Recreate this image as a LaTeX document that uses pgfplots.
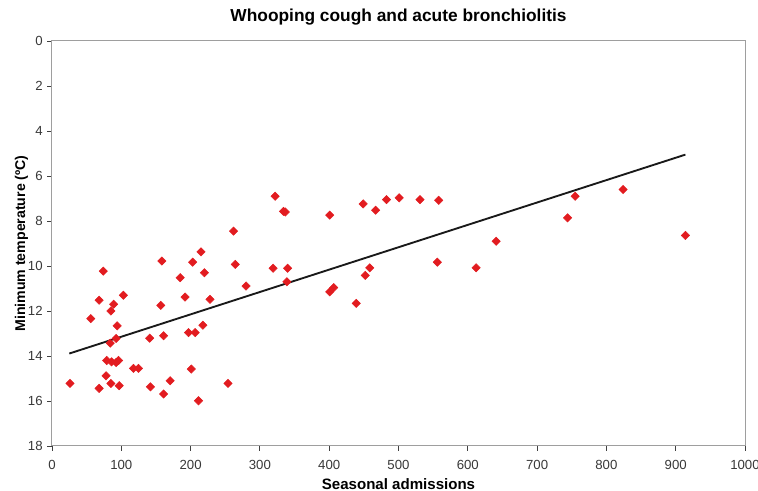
\documentclass[border=0pt]{standalone}
\usepackage{fontspec}
\setmainfont{Liberation Sans}
\usepackage{pgfplots}
\pgfplotsset{compat=1.18}
\definecolor{ptred}{RGB}{226,28,32}
\begin{document}
\begin{tikzpicture}
\begin{axis}[
  scale only axis,
  width=519.75pt, height=303.75pt,
  xmin=0, xmax=1000, ymin=0, ymax=18,
  y dir=reverse,
  xtick={0,100,...,1000}, ytick={0,2,...,18},
  axis x line*=bottom, axis y line*=left,
  axis line style={black!75, line width=0.75pt},
  tick align=outside, major tick length=3.5pt,
  tick style={black!75, line width=0.7pt},
  /pgf/number format/assume math mode=true,
  /pgf/number format/1000 sep={},
  ticklabel style={font=\fontsize{9.9}{11}\selectfont, text=black!78},
  xticklabel style={yshift=-4pt},
  xlabel={Seasonal admissions},
  ylabel={Minimum temperature (ºC)},
  xlabel style={font=\fontsize{11.3}{13}\selectfont\bfseries, at={(ticklabel cs:0.5,7pt)}, anchor=center},
  ylabel style={font=\fontsize{10.6}{13}\selectfont\bfseries, at={(ticklabel cs:0.5,1.5pt)}, anchor=center},
  title={Whooping cough and acute bronchiolitis},
  title style={font=\fontsize{13}{15}\selectfont\bfseries, at={(0.5,1)}, anchor=center, yshift=12.3pt},
  clip=false,
]
\draw[black!38, line width=0.75pt] (rel axis cs:0,0) rectangle (rel axis cs:1,1);
\addplot[only marks, mark=square*, mark size=2.2pt, mark options={rotate=45, fill=ptred, draw=ptred}]
coordinates {
(26,15.22) (56,12.34) (68,11.52) (74,10.23) (68,15.44) (78,14.88) (85,15.22) (97,15.32)
(79,14.2) (86,14.26) (92.5,14.29) (96,14.2) (84,13.43) (92.5,13.22) (94,12.66) (85,12.0)
(89,11.7) (103,11.3) (117.5,14.55) (124.7,14.55) (141,13.21) (142,15.37) (161,13.1) (161,15.69)
(170.5,15.1) (157,11.75) (158.5,9.78) (185,10.52) (192,11.38) (203,9.83) (215,9.37) (220,10.3)
(228,11.48) (197,12.96) (206.6,12.96) (217.7,12.63) (201,14.58) (211.4,15.99) (254,15.22) (262,8.45)
(264.5,9.93) (322,6.9) (334,7.57) (336.7,7.6) (400.7,7.74) (449,7.24) (467,7.52) (319,10.1)
(340,10.1) (280,10.89) (339,10.7) (400.7,11.15) (406.5,10.96) (439,11.66) (458.5,10.08) (452,10.42)
(482.7,7.05) (501,6.97) (531,7.05) (558,7.08) (556,9.83) (612,10.08) (641,8.9) (744,7.86)
(755,6.9) (824,6.6) (914,8.64)
};
\addplot[black!90, line width=1.4pt, no marks] coordinates {(25,13.89) (914,5.05)};
\end{axis}
\pgfresetboundingbox
\path[use as bounding box] ([xshift=-39pt,yshift=-33.75pt]current axis.south west) rectangle ([xshift=9.75pt,yshift=30.75pt]current axis.north east);
\end{tikzpicture}
\end{document}
